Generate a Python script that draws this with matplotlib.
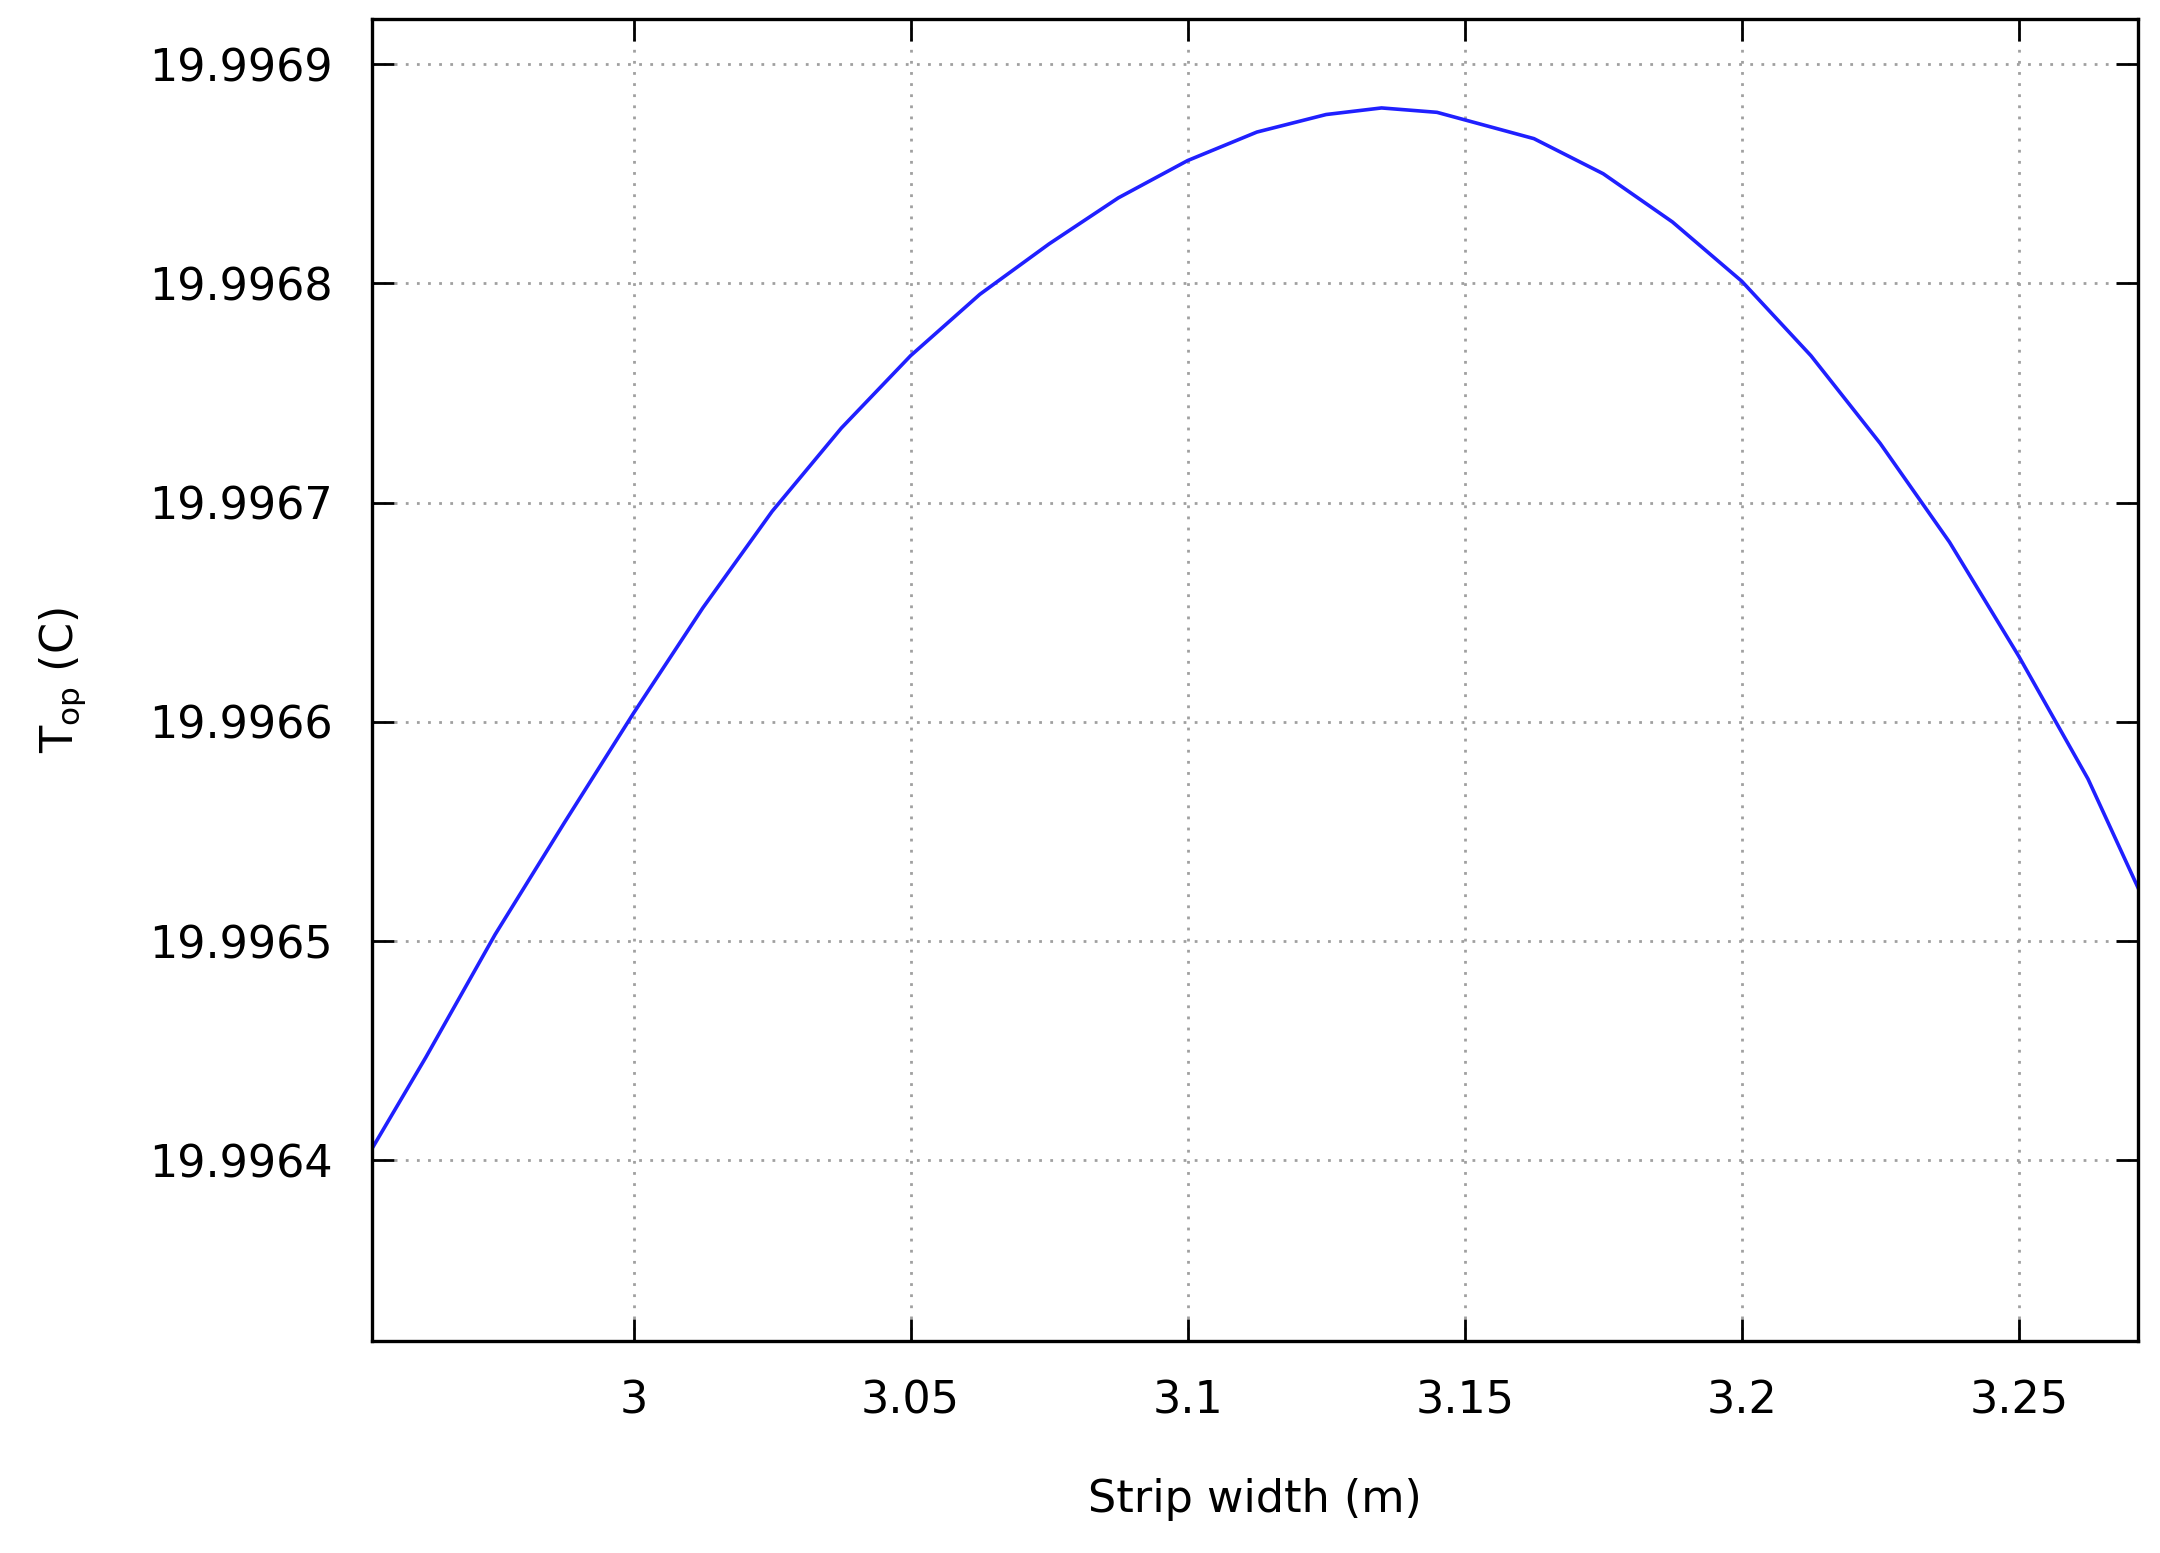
import matplotlib
matplotlib.use("Agg")
import matplotlib.pyplot as plt

strip_width = [2.9527, 2.9625, 2.975, 2.9875, 3.0, 3.0125, 3.025, 3.0375, 3.05,
               3.0625, 3.075, 3.0875, 3.1, 3.1125, 3.125, 3.135, 3.145, 3.1625,
               3.175, 3.1875, 3.2, 3.2125, 3.225, 3.2375, 3.25, 3.2625, 3.2716]
t_op = [19.996405, 19.996447, 19.996503, 19.996554, 19.996604, 19.996652,
        19.996696, 19.996734, 19.996767, 19.996795, 19.996818, 19.996839,
        19.996856, 19.996869, 19.996877, 19.996880, 19.996878, 19.996866,
        19.996850, 19.996828, 19.996801, 19.996767, 19.996727, 19.996682,
        19.996630, 19.996574, 19.996524]
x_ticks = [3.0, 3.05, 3.1, 3.15, 3.2, 3.25]
x_tick_labels = ["3", "3.05", "3.1", "3.15", "3.2", "3.25"]
y_ticks = [19.9964, 19.9965, 19.9966, 19.9967, 19.9968, 19.9969]
y_tick_labels = ["19.9964", "19.9965", "19.9966", "19.9967", "19.9968", "19.9969"]

plt.rcParams['font.family'] = ['DejaVu Sans']
fig = plt.figure(figsize=(10.8, 7.765), dpi=200)
ax = fig.add_axes([0.172, 0.1367, 0.818, 0.8513])
ax.plot(strip_width, t_op, color='#2020ff', lw=1.3)
ax.set_xlim(2.9527, 3.2716)
ax.set_ylim(19.99631777, 19.99692073)
ax.set_xticks(x_ticks)
ax.set_xticklabels(x_tick_labels)
ax.set_yticks(y_ticks)
ax.set_yticklabels(y_tick_labels)
ax.tick_params(direction='in', length=8, width=1, top=True, right=True,
               labelsize=16, pad=14)
ax.grid(True, color='#a0a0a0', linestyle=(0, (1, 3)), linewidth=1)
for s in ax.spines.values():
    s.set_linewidth(1.2)
ax.set_xlabel("Strip width (m)", fontsize=16, labelpad=20)
ax.set_ylabel("T$_{\\mathregular{op}}$ (C)", fontsize=16, labelpad=22)
fig.savefig("out.png", dpi=200)
